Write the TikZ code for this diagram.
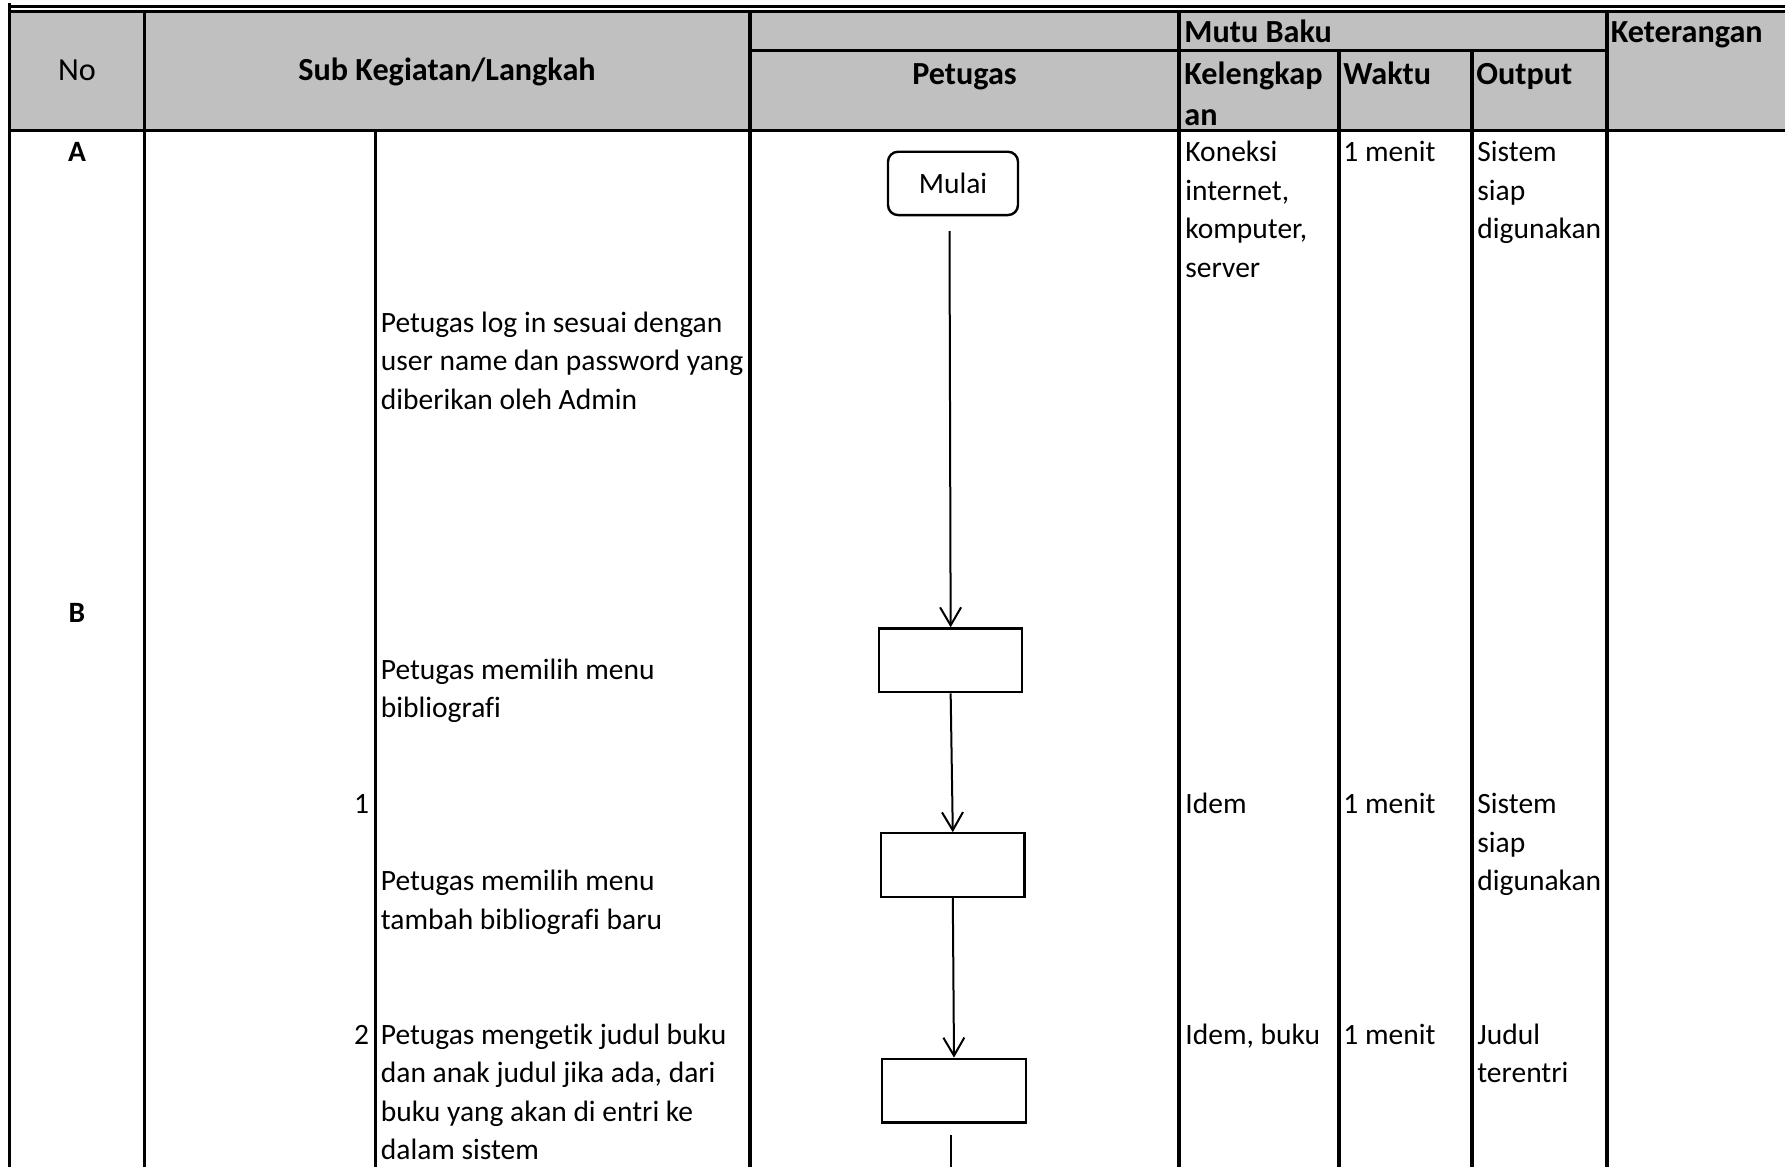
\documentclass[tikz,border=0pt]{standalone}
\usepackage{fontspec}
\setmainfont{Carlito}[Ligatures={NoCommon}]
\usetikzlibrary{arrows.meta}
\definecolor{hdrgray}{HTML}{C0C0C0}
\begin{document}
\begin{tikzpicture}[x=0.5pt,y=-0.5pt,
  txt/.style={inner sep=0pt, anchor=base west, font=\fontsize{14.75}{19}\selectfont},
  txtr/.style={inner sep=0pt, anchor=base east, font=\fontsize{14.75}{19}\selectfont},
  txtc/.style={inner sep=0pt, anchor=base, font=\fontsize{14.75}{19}\selectfont},
  hb/.style={font=\fontsize{16.1}{19}\selectfont\bfseries},
  hn/.style={font=\fontsize{16.1}{19}\selectfont},
  bb/.style={font=\fontsize{14.75}{19}\selectfont\bfseries},
  grid/.style={line width=1.4pt, line cap=rect},
  hgrid/.style={line width=1.6pt, line cap=rect},
  stepbox/.style={draw, line width=1.1pt, minimum width=71.65pt, minimum height=31.9pt, inner sep=0pt},
  startbox/.style={draw, line width=1.2pt, rounded corners=5pt, minimum width=65pt, minimum height=31.65pt, inner sep=0pt, font=\fontsize{14.75}{19}\selectfont},
  flow/.style={line width=1pt, -{Straight Barb[length=9pt,width=10.5pt,line width=1pt]}}
]
\useasboundingbox (0,0) rectangle (1785,1167);
\fill[white] (0,0) rectangle (1785,1167);
% header fill
\fill[hdrgray] (9.5,12) rectangle (1785,130.7);
% top double line
\draw[line width=1.5pt] (9.5,6) -- (1785,6);
\draw[line width=1.4pt] (9.5,11.2) -- (1785,11.2);
% left border
\draw[hgrid] (9.5,4.7) -- (9.5,1167);
% header bottom
\draw[hgrid] (9.5,130.7) -- (1785,130.7);
% Mutu Baku line
\draw[hgrid] (750,50.5) -- (1607,50.5);
% vertical lines
\draw[hgrid] (144.3,11.2) -- (144.3,1167);
\draw[hgrid] (750,11.2) -- (750,1167);
\draw[hgrid] (1179,11.2) -- (1179,1167);
\draw[hgrid] (1339,50.5) -- (1339,1167);
\draw[hgrid] (1472,50.5) -- (1472,1167);
\draw[hgrid] (1607,11.2) -- (1607,1167);
\draw[grid] (375.5,130.7) -- (375.5,1167);

% header texts
\node[txtc, hn] (hno) at (77,80.5) {No};
\node[txtc, hb] (hsub) at (447,80.5) {Sub Kegiatan/Langkah};
\node[txtc, hb] (hpet) at (964.5,84) {Petugas};
\node[txt, hb] (hmutu) at (1184,42) {Mutu Baku};
\node[txt, hb] (hket) at (1610.5,42) {Keterangan};
\node[txt, hb] (hkel1) at (1184,84) {Kelengkap};
\node[txt, hb] (hkel2) at (1184,125) {an};
\node[txt, hb] (hwak) at (1343,84) {Waktu};
\node[txt, hb] (hout) at (1476,84) {Output};

% No column
\node[txtc, bb] (nA) at (77,161.7) {A};
\node[txtc, bb] (nB) at (77,622) {B};
\node[txtr] (n1) at (369.5,813.5) {1};
\node[txtr] (n2) at (369.5,1044.3) {2};

% Sub Kegiatan texts
\node[txt] (s1a) at (380.5,332) {Petugas log in sesuai dengan};
\node[txt] (s1b) at (380.5,370.5) {user name dan password yang};
\node[txt] (s1c) at (380.5,409) {diberikan oleh Admin};
\node[txt] (s2a) at (380.5,679) {Petugas memilih menu};
\node[txt] (s2b) at (380.5,717.6) {bibliografi};
\node[txt] (s3a) at (380.5,890.6) {Petugas memilih menu};
\node[txt] (s3b) at (380.5,929.3) {tambah bibliografi baru};
\node[txt] (s4a) at (380.5,1044.3) {Petugas mengetik judul buku};
\node[txt] (s4b) at (380.5,1082.8) {dan anak judul jika ada, dari};
\node[txt] (s4c) at (380.5,1121.3) {buku yang akan di entri ke};
\node[txt] (s4d) at (380.5,1159.8) {dalam sistem};

% Kelengkapan
\node[txt] (k1a) at (1185,161.7) {Koneksi};
\node[txt] (k1b) at (1185,200.2) {internet,};
\node[txt] (k1c) at (1185,238.7) {komputer,};
\node[txt] (k1d) at (1185,277.2) {server};
\node[txt] (k2) at (1185,813.5) {Idem};
\node[txt] (k3) at (1185,1044.3) {Idem, buku};

% Waktu
\node[txt] (w1) at (1343,161.7) {1 menit};
\node[txt] (w2) at (1343,813.5) {1 menit};
\node[txt] (w3) at (1343,1044.3) {1 menit};

% Output
\node[txt] (o1a) at (1477,161.7) {Sistem};
\node[txt] (o1b) at (1477,200.2) {siap};
\node[txt] (o1c) at (1477,238.7) {digunakan};
\node[txt] (o2a) at (1477,813.5) {Sistem};
\node[txt] (o2b) at (1477,852) {siap};
\node[txt] (o2c) at (1477,890.5) {digunakan};
\node[txt] (o3a) at (1477,1044.3) {Judul};
\node[txt] (o3b) at (1477,1082.8) {terentri};

% flowchart
\node[startbox] (mulai) at (953,183.4) {Mulai};
\node[stepbox] (b1) at (950.65,660.3) {};
\node[stepbox] (b2) at (952.8,865.2) {};
\node[stepbox] (b3) at (954,1090.6) {};
\coordinate (m0) at (949.5,231);
\coordinate (e0) at (951,1135);
\coordinate (e1) at (951,1170);
\draw[flow] (m0) -- (b1.north);
\draw[flow] (b1.south) -- (b2.north);
\draw[flow] (b2.south) -- (b3.north);
\draw[line width=1pt] (e0) -- (e1);
\end{tikzpicture}
\end{document}
